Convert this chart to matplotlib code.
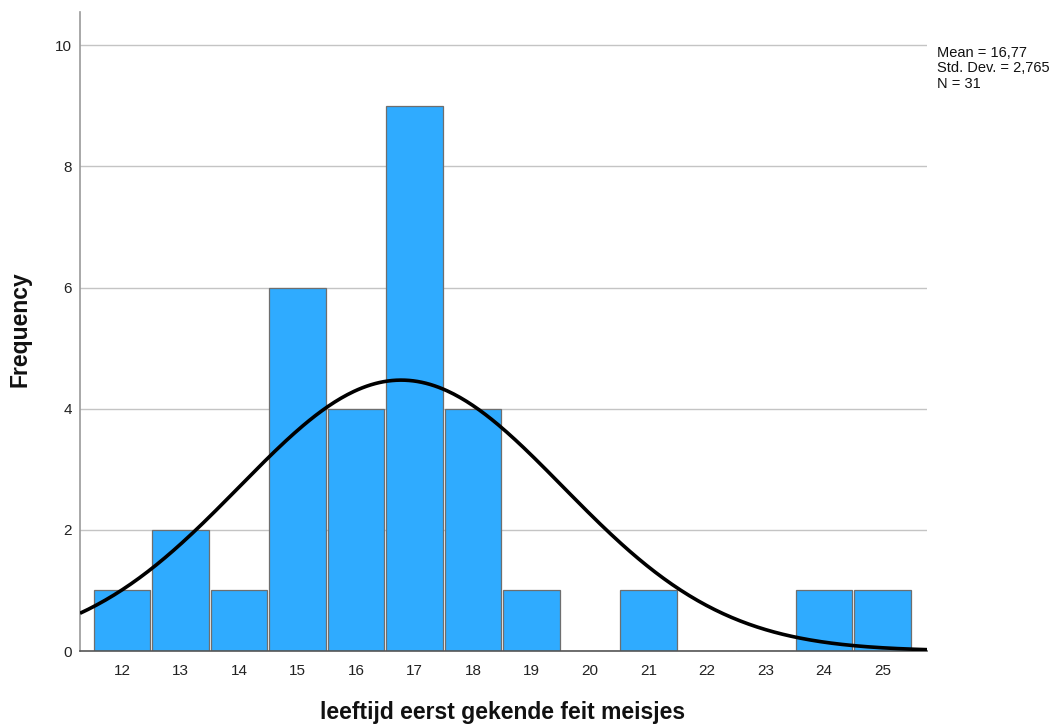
import numpy as np
import matplotlib.pyplot as plt

# leeftijd (jaren) en aantal meisjes per leeftijd
leeftijd = [12, 13, 14, 15, 16, 17, 18, 19, 20, 21, 22, 23, 24, 25]
aantal = [1, 2, 1, 6, 4, 9, 4, 1, 0, 1, 0, 0, 1, 1]

gemiddelde = 16.77
std_dev = 2.765
n = 31

plt.rcParams['font.family'] = ['Liberation Sans', 'DejaVu Sans']

fig = plt.figure(figsize=(10.61, 7.24), dpi=100)
ax = fig.add_axes([0.0754, 0.1008, 0.7983, 0.8826])

x_min, x_max = 11.28, 25.76
y_max = 10.55

# rasterlijnen
for y in [2, 4, 6, 8, 10]:
    ax.axhline(y, color='#c4c4c4', lw=1.0, zorder=0)

# histogram balken
ax.bar(leeftijd, aantal, width=0.97, color='#2fabff', edgecolor='#6e6e6e',
       linewidth=0.9, zorder=2)

# normaalcurve geschaald naar frequenties
xs = np.linspace(x_min, x_max, 400)
ys = n * np.exp(-0.5 * ((xs - gemiddelde) / std_dev) ** 2) / (std_dev * np.sqrt(2 * np.pi))
ax.plot(xs, ys, color='black', lw=2.6, zorder=3, solid_capstyle='butt')

ax.set_xlim(x_min, x_max)
ax.set_ylim(0, y_max)
ax.set_xticks(leeftijd)
ax.set_yticks([0, 2, 4, 6, 8, 10])
ax.tick_params(axis='both', length=0, labelsize=11, colors='#222222')
ax.tick_params(axis='x', pad=9)
ax.tick_params(axis='y', pad=6)

for s in ['top', 'right']:
    ax.spines[s].set_visible(False)
ax.spines['left'].set_color('#9a9a9a')
ax.spines['left'].set_linewidth(1.2)
ax.spines['bottom'].set_color('#555555')
ax.spines['bottom'].set_linewidth(1.2)

fig.text(0.019, 0.5456, 'Frequency', rotation=90, ha='center', va='center',
         fontsize=16.5, fontweight='bold', color='#111111')
fig.text(0.474, 0.016, 'leeftijd eerst gekende feit meisjes', ha='center',
         va='center', fontsize=16.5, fontweight='bold', color='#111111')

fig.text(0.883, 0.937,
         'Mean = 16,77\nStd. Dev. = 2,765\nN = 31',
         ha='left', va='top', fontsize=10.5, linespacing=1.15, color='#111111')

fig.savefig('out.png', dpi=100)
